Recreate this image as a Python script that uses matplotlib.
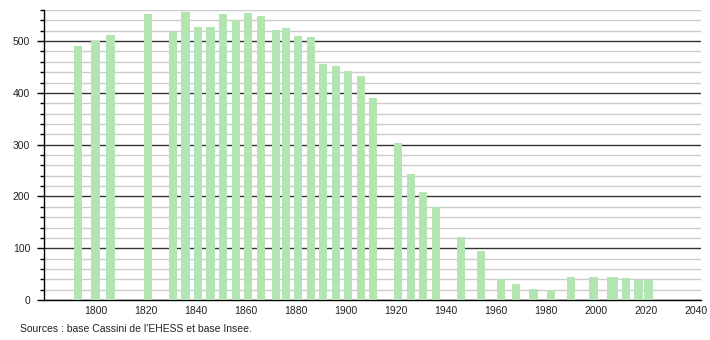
import matplotlib
matplotlib.use("Agg")
import matplotlib.pyplot as plt
from matplotlib.ticker import MultipleLocator, FixedLocator

plt.rcParams['font.family'] = ['Liberation Sans', 'DejaVu Sans']

years = [1793, 1800, 1806, 1821, 1831, 1836, 1841, 1846, 1851, 1856, 1861, 1866,
         1872, 1876, 1881, 1886, 1891, 1896, 1901, 1906, 1911, 1921, 1926, 1931,
         1936, 1946, 1954, 1962, 1968, 1975, 1982, 1990, 1999, 2006, 2007, 2012,
         2017, 2021]
population = [490, 500, 512, 552, 518, 556, 527, 527, 553, 540, 555, 549,
              521, 525, 510, 508, 456, 451, 443, 432, 391, 304, 244, 208,
              180, 122, 95, 40, 31, 21, 19, 44, 44, 45, 45, 43,
              38, 38]
x_ticks = [1800, 1820, 1840, 1860, 1880, 1900, 1920, 1940, 1960, 1980, 2000, 2020, 2040]
y_ticks = [0, 100, 200, 300, 400, 500]
source_text = "Sources : base Cassini de l'EHESS et base Insee."

W, H = 710, 340
fig = plt.figure(figsize=(W / 100, H / 100), dpi=100)
ax = fig.add_axes([44 / W, 1 - 300 / H, (701 - 44) / W, (300 - 10) / H])

ax.bar(years, population, width=3.3, color='#b2e5b2', zorder=3, linewidth=0)

ax.set_xlim(1779.4, 2042.0)
ax.set_ylim(0, 560)

ax.yaxis.set_major_locator(FixedLocator(y_ticks))
ax.yaxis.set_minor_locator(MultipleLocator(20))
ax.xaxis.set_major_locator(FixedLocator(x_ticks))

ax.grid(which='major', axis='y', color='#333333', linewidth=1.0, zorder=1)
ax.grid(which='minor', axis='y', color='#cccccc', linewidth=1.0, zorder=0)
ax.grid(False, axis='x')

for s in ['top', 'right']:
    ax.spines[s].set_visible(False)
ax.spines['left'].set_color('black')
ax.spines['bottom'].set_color('black')
ax.spines['left'].set_linewidth(1.0)
ax.spines['bottom'].set_linewidth(1.0)

ax.tick_params(axis='y', which='major', length=5, width=1, direction='out', pad=5,
               labelsize=7.5, colors='black', labelcolor='#222222')
ax.tick_params(axis='y', which='minor', length=3, width=1, direction='out')
ax.tick_params(axis='x', which='both', length=0, pad=4, labelsize=7.5, labelcolor='#222222')
ax.set_xticklabels([str(t) for t in x_ticks])

fig.text(20.5 / W, 1 - 329 / H, source_text, fontsize=7.5, color='#222222',
         ha='left', va='center')

fig.savefig('out.png', dpi=100)
